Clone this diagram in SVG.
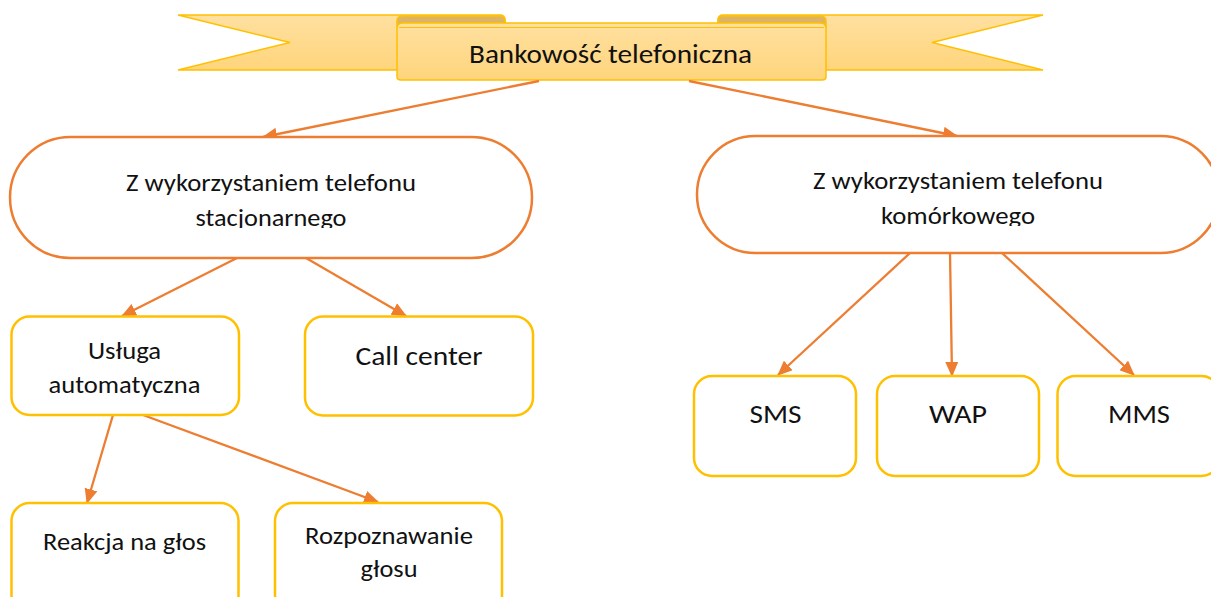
<svg xmlns="http://www.w3.org/2000/svg" width="1211" height="597" viewBox="0 0 1211 597">
<style>
.t{font-family:Carlito,Lato,"Liberation Sans",sans-serif;fill:#111;text-anchor:middle}
.big{font-size:26px}
.mid{font-size:24px}
.box{fill:#fff;stroke:#FFC000;stroke-width:2.5}
.oval{fill:#fff;stroke:#ED7D31;stroke-width:2.5}
.rib{fill:url(#rg);stroke:#FFC000;stroke-width:1.5}
.fold{fill:#DDB466;stroke:#FFC000;stroke-width:1.5}
.c{stroke:#ED7D31;stroke-width:2.3;fill:none;marker-end:url(#ah)}
</style>
<defs>
<linearGradient id="rg" x1="0" y1="0" x2="0" y2="1">
<stop offset="0" stop-color="#FFE0A0"/>
<stop offset="1" stop-color="#FFD57C"/>
</linearGradient>
<marker id="ah" markerUnits="userSpaceOnUse" markerWidth="15" markerHeight="13" refX="14" refY="6.5" orient="auto">
<path d="M0,0 L15,6.5 L0,13 Z" fill="#ED7D31"/>
</marker>
<clipPath id="cl"><rect x="0" y="130" width="600" height="98"/></clipPath>
<clipPath id="cr"><rect x="690" y="130" width="530" height="96"/></clipPath>
</defs>

<g id="banner">
<path class="rib" d="M178,15 H500 Q505,15 505,20 V70 H178 L290,42.5 Z"/>
<path class="rib" d="M1043,15 H723 Q718,15 718,20 V70 H1043 L932,42.5 Z"/>
<path class="fold" d="M397,27 V21 Q397,16 403,16 H500 Q505,16 505,21 V27 Z"/>
<path class="fold" d="M826,27 V21 Q826,16 820,16 H723 Q718,16 718,21 V27 Z"/>
<path class="rib" d="M397,28 Q397,23 403,23 H820 Q826,23 826,28 V77 Q826,80 822,80 H401 Q397,80 397,77 Z"/>
<line x1="399" y1="27.5" x2="824" y2="27.5" stroke="#FFC000" stroke-width="1"/>
<text class="t big" x="610.5" y="63" textLength="283" lengthAdjust="spacingAndGlyphs">Bankowość telefoniczna</text>
</g>

<g id="connectors">
<line class="c" x1="539" y1="81" x2="263" y2="137"/>
<line class="c" x1="689" y1="81" x2="957" y2="136"/>
<line class="c" x1="237" y1="258" x2="122" y2="316"/>
<line class="c" x1="306" y1="258" x2="406" y2="316"/>
<line class="c" x1="113" y1="415" x2="87" y2="503"/>
<line class="c" x1="143" y1="415" x2="378" y2="502"/>
<line class="c" x1="910" y1="253" x2="778" y2="375"/>
<line class="c" x1="950" y1="253" x2="952" y2="376"/>
<line class="c" x1="1002" y1="253" x2="1134" y2="375"/>
</g>

<g id="stacjonarny">
<rect class="oval" x="10" y="137" width="522" height="121" rx="60.5" ry="60.5"/>
<g clip-path="url(#cl)">
<text class="t mid" x="271" y="191" textLength="290" lengthAdjust="spacingAndGlyphs">Z wykorzystaniem telefonu</text>
<text class="t mid" x="271" y="226" textLength="151" lengthAdjust="spacingAndGlyphs">stacjonarnego</text>
</g>
</g>

<g id="komorkowy">
<rect class="oval" x="697" y="136" width="522" height="117" rx="58.5" ry="58.5"/>
<g clip-path="url(#cr)">
<text class="t mid" x="958" y="189" textLength="290" lengthAdjust="spacingAndGlyphs">Z wykorzystaniem telefonu</text>
<text class="t mid" x="958" y="224" textLength="154" lengthAdjust="spacingAndGlyphs">komórkowego</text>
</g>
</g>

<g id="usluga">
<rect class="box" x="11.5" y="316.5" width="227.5" height="98.5" rx="18"/>
<text class="t mid" x="124.5" y="359" textLength="73" lengthAdjust="spacingAndGlyphs">Usługa</text>
<text class="t mid" x="124.5" y="393" textLength="152" lengthAdjust="spacingAndGlyphs">automatyczna</text>
</g>

<g id="callcenter">
<rect class="box" x="305" y="316.5" width="228" height="99" rx="18"/>
<text class="t big" x="419" y="365" textLength="127" lengthAdjust="spacingAndGlyphs">Call center</text>
</g>

<g id="reakcja">
<rect class="box" x="11.5" y="503" width="227" height="110" rx="18"/>
<text class="t mid" x="124.5" y="550" textLength="163" lengthAdjust="spacingAndGlyphs">Reakcja na głos</text>
</g>

<g id="rozpoznawanie">
<rect class="box" x="275" y="503" width="227" height="110" rx="18"/>
<text class="t mid" x="389" y="544" textLength="168" lengthAdjust="spacingAndGlyphs">Rozpoznawanie</text>
<text class="t mid" x="389" y="577" textLength="57" lengthAdjust="spacingAndGlyphs">głosu</text>
</g>

<g id="sms">
<rect class="box" x="694" y="376" width="162" height="100" rx="18"/>
<text class="t big" x="775.5" y="423" textLength="52" lengthAdjust="spacingAndGlyphs">SMS</text>
</g>

<g id="wap">
<rect class="box" x="877" y="376" width="162" height="100" rx="18"/>
<text class="t big" x="958" y="423" textLength="58" lengthAdjust="spacingAndGlyphs">WAP</text>
</g>

<g id="mms">
<rect class="box" x="1057.5" y="376" width="162" height="100" rx="18"/>
<text class="t big" x="1139" y="423" textLength="62" lengthAdjust="spacingAndGlyphs">MMS</text>
</g>
</svg>
